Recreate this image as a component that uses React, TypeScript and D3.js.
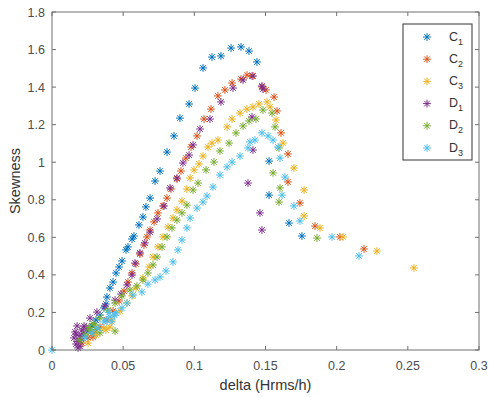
import React from "react";
import * as d3 from "d3";

const seriesNames = ["C1", "C2", "C3", "D1", "D2", "D3"];
const seriesColors = ["#0072BD", "#D95319", "#EDB120", "#7E2F8E", "#77AC30", "#4DBEEE"];

const C1: [number, number][] = [
  [0.0197,0.053],[0.0225,0.075],[0.0253,0.101],[0.0281,0.128],[0.0309,0.160],[0.0337,0.186],[0.0365,0.224],[0.0379,0.245],[0.0386,0.282],[0.0407,0.330],[0.0429,0.362],[0.0450,0.410],[0.0471,0.442],[0.0492,0.474],[0.0520,0.533],[0.0534,0.549],[0.0562,0.591],[0.0576,0.607],[0.0611,0.666],[0.0639,0.708],[0.0660,0.762],[0.0689,0.809],[0.0724,0.900],[0.0759,0.953],[0.0808,1.054],[0.0857,1.140],[0.0899,1.235],[0.0963,1.310],[0.1005,1.395],[0.1061,1.502],[0.1124,1.560],[0.1187,1.566],[0.1258,1.608],[0.1328,1.614],[0.1384,1.592],[0.1440,1.534],[0.1525,1.006],[0.1525,0.825],[0.1665,0.676],[0.1756,0.607],
];
const C2: [number, number][] = [
  [0.0211,0.037],[0.0253,0.064],[0.0288,0.069],[0.0295,0.091],[0.0337,0.122],[0.0386,0.160],[0.0429,0.208],[0.0471,0.261],[0.0506,0.314],[0.0534,0.362],[0.0562,0.410],[0.0590,0.458],[0.0618,0.511],[0.0646,0.559],[0.0667,0.602],[0.0689,0.639],[0.0717,0.682],[0.0745,0.730],[0.0780,0.767],[0.0808,0.809],[0.0836,0.857],[0.0878,0.911],[0.0906,0.953],[0.0941,1.022],[0.0977,1.081],[0.1019,1.140],[0.1068,1.230],[0.1117,1.283],[0.1166,1.353],[0.1215,1.385],[0.1265,1.422],[0.1328,1.443],[0.1370,1.464],[0.1405,1.459],[0.1475,1.401],[0.1504,1.385],[0.1560,1.347],[0.1581,1.273],[0.1609,1.156],[0.1658,1.044],[0.1658,0.895],[0.1742,0.783],[0.1848,0.660],[0.2023,0.602],[0.2192,0.538],
];
const C3: [number, number][] = [
  [0.0253,0.037],[0.0309,0.080],[0.0365,0.117],[0.0379,0.107],[0.0407,0.122],[0.0422,0.160],[0.0478,0.208],[0.0527,0.250],[0.0562,0.288],[0.0590,0.330],[0.0639,0.383],[0.0682,0.442],[0.0710,0.495],[0.0745,0.549],[0.0780,0.602],[0.0815,0.655],[0.0850,0.703],[0.0878,0.746],[0.0913,0.793],[0.0948,0.857],[0.0970,0.916],[0.0998,0.959],[0.1033,0.991],[0.1061,1.033],[0.1096,1.081],[0.1124,1.102],[0.1166,1.118],[0.1230,1.188],[0.1265,1.230],[0.1321,1.262],[0.1370,1.283],[0.1412,1.294],[0.1454,1.310],[0.1511,1.321],[0.1532,1.294],[0.1574,1.225],[0.1623,1.102],[0.1700,0.969],[0.1771,0.852],[0.1771,0.714],[0.1883,0.650],[0.2045,0.602],[0.2283,0.527],[0.2543,0.437],
];
const D1: [number, number][] = [
  [0.0155,0.064],[0.0169,0.032],[0.0183,0.011],[0.0162,0.096],[0.0190,0.075],[0.0211,0.107],[0.0176,0.128],[0.0169,0.085],[0.0183,0.045],[0.0197,0.020],[0.0204,0.060],[0.0218,0.090],[0.0240,0.120],[0.0225,0.128],[0.0267,0.170],[0.0316,0.202],[0.0372,0.234],[0.0443,0.266],[0.0485,0.298],[0.0527,0.346],[0.0562,0.399],[0.0583,0.463],[0.0618,0.517],[0.0653,0.570],[0.0689,0.628],[0.0738,0.698],[0.0787,0.767],[0.0829,0.863],[0.0878,0.916],[0.0920,0.996],[0.0963,1.038],[0.0991,1.092],[0.1040,1.177],[0.1110,1.230],[0.1187,1.321],[0.1272,1.395],[0.1342,1.438],[0.1412,1.459],[0.1475,1.406],[0.1482,1.390],[0.1405,1.241],[0.1412,1.065],[0.1377,0.889],[0.1461,0.730],[0.1475,0.639],
];
const D2: [number, number][] = [
  [0.0197,0.053],[0.0232,0.080],[0.0267,0.107],[0.0260,0.120],[0.0290,0.140],[0.0310,0.110],[0.0280,0.090],[0.0302,0.133],[0.0337,0.170],[0.0393,0.213],[0.0443,0.250],[0.0492,0.288],[0.0548,0.320],[0.0597,0.341],[0.0639,0.373],[0.0674,0.410],[0.0710,0.453],[0.0738,0.495],[0.0773,0.549],[0.0808,0.602],[0.0843,0.650],[0.0878,0.692],[0.0913,0.730],[0.0948,0.772],[0.0991,0.852],[0.1026,0.889],[0.1082,0.959],[0.1138,1.001],[0.1180,1.060],[0.1244,1.102],[0.1293,1.156],[0.1342,1.193],[0.1384,1.220],[0.1433,1.230],[0.1482,1.278],[0.1546,1.262],[0.1567,1.188],[0.1595,1.076],[0.1553,0.943],[0.1602,0.863],[0.1595,0.788],[0.1862,0.596],[0.0443,0.101],[0.0337,0.091],
];
const D3: [number, number][] = [
  [0,0],[0.0232,0.064],[0.0281,0.091],[0.0323,0.117],[0.0365,0.149],[0.0380,0.160],[0.0420,0.150],[0.0440,0.185],[0.0400,0.200],[0.0407,0.176],[0.0450,0.197],[0.0492,0.224],[0.0527,0.250],[0.0569,0.293],[0.0632,0.309],[0.0674,0.351],[0.0724,0.373],[0.0759,0.389],[0.0801,0.421],[0.0850,0.469],[0.0885,0.533],[0.0913,0.586],[0.0948,0.650],[0.0970,0.703],[0.1019,0.756],[0.1061,0.788],[0.1089,0.820],[0.1131,0.868],[0.1180,0.932],[0.1230,0.975],[0.1265,1.001],[0.1321,1.033],[0.1377,1.076],[0.1391,1.108],[0.1426,1.118],[0.1475,1.156],[0.1518,1.140],[0.1553,1.118],[0.1588,1.081],[0.1602,1.022],[0.1637,0.921],[0.1616,0.825],[0.1700,0.767],[0.1742,0.687],[0.1967,0.602],[0.2157,0.501],
];

const allSeries = [C1, C2, C3, D1, D2, D3];
const xTicks = [0, 0.05, 0.1, 0.15, 0.2, 0.25, 0.3];
const yTicks = [0, 0.2, 0.4, 0.6, 0.8, 1, 1.2, 1.4, 1.6, 1.8];
const xLabel = "delta (Hrms/h)";
const yLabel = "Skewness";

const W = 489, H = 397;
const L = 52, R = 479, T = 12, B = 350;
const FONT = "Arial, 'Liberation Sans', Helvetica, sans-serif";

function star(r: number) {
  const d = r * 0.72;
  return `M${-r},0L${r},0M0,${-r}L0,${r}M${-d},${-d}L${d},${d}M${-d},${d}L${d},${-d}`;
}

export default function App() {
  const x = d3.scaleLinear().domain([0, 0.3]).range([L, R]);
  const y = d3.scaleLinear().domain([0, 1.8]).range([B, T]);
  const mk = star(3.9);
  const axisColor = "#707070";
  const textColor = "#4d4d4d";
  const tl = 4;
  const legX = 403, legY = 24, legW = 69, legH = 136, rowH = 22.2;

  return (
    <svg width={W} height={H} style={{ position: "absolute", left: 0, top: 0, background: "#fff" }} fontFamily={FONT}>
      <rect x={0} y={0} width={W} height={H} fill="#fff" />
      {allSeries.map((s, i) => (
        <g key={i} stroke={seriesColors[i]} strokeWidth={1} fill="none">
          {s.map((p, j) => (
            <path key={j} d={mk} transform={`translate(${x(p[0])},${y(p[1])})`} />
          ))}
        </g>
      ))}
      <rect x={L} y={T} width={R - L} height={B - T} fill="none" stroke={axisColor} strokeWidth={1} />
      {xTicks.map((t, i) => (
        <g key={i}>
          <line x1={x(t)} x2={x(t)} y1={B} y2={B - tl} stroke={axisColor} />
          <line x1={x(t)} x2={x(t)} y1={T} y2={T + tl} stroke={axisColor} />
          <text x={x(t)} y={370} textAnchor="middle" fontSize={12.5} fill={textColor}>{String(t)}</text>
        </g>
      ))}
      {yTicks.map((t, i) => (
        <g key={i}>
          <line x1={L} x2={L + tl} y1={y(t)} y2={y(t)} stroke={axisColor} />
          <line x1={R} x2={R - tl} y1={y(t)} y2={y(t)} stroke={axisColor} />
          <text x={45} y={y(t) + 4.5} textAnchor="end" fontSize={12.5} fill={textColor}>{String(t)}</text>
        </g>
      ))}
      <text x={(L + R) / 2} y={390} textAnchor="middle" fontSize={14.5} fill="#333">{xLabel}</text>
      <text transform={`translate(20,${(T + B) / 2}) rotate(-90)`} textAnchor="middle" fontSize={14.5} fill="#333">{yLabel}</text>
      <rect x={legX} y={legY} width={legW} height={legH} fill="#fff" stroke="#333" strokeWidth={1} />
      {seriesNames.map((n, i) => {
        const cy = legY + 13 + i * rowH;
        return (
          <g key={n}>
            <path d={mk} transform={`translate(${legX + 24},${cy})`} stroke={seriesColors[i]} strokeWidth={1} fill="none" />
            <text x={legX + 46} y={cy + 3.5} fontSize={12.5} fill="#333">
              {n[0]}
              <tspan fontSize={9} dy={4}>{n.slice(1)}</tspan>
            </text>
          </g>
        );
      })}
    </svg>
  );
}
